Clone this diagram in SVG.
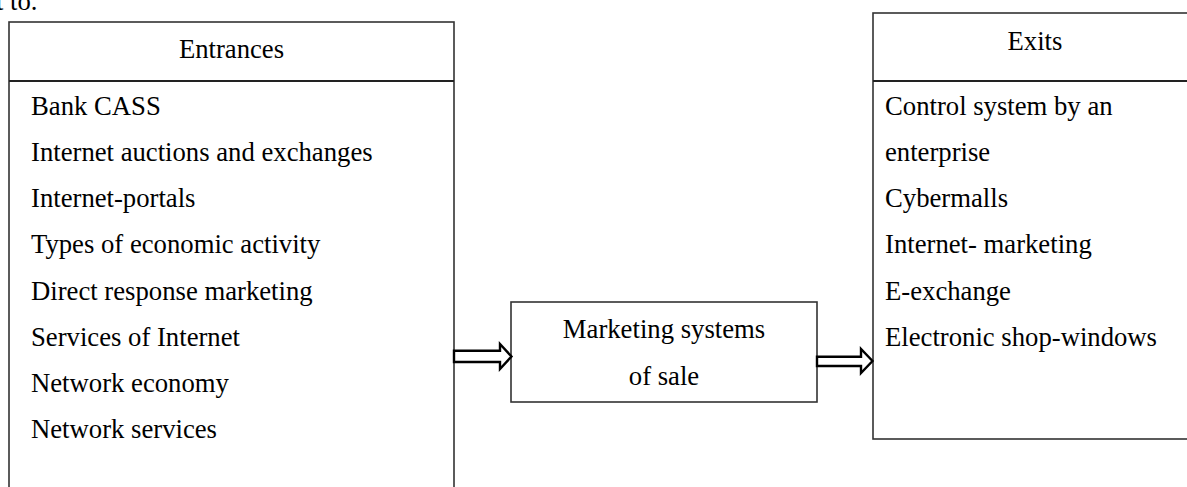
<svg xmlns="http://www.w3.org/2000/svg" width="1187" height="487" viewBox="0 0 1187 487">
  <style>
    .box { fill: #ffffff; stroke: #333333; stroke-width: 1.6; }
    .rule { stroke: #222222; stroke-width: 1.8; }
    .t { font-family: "Liberation Serif", "Times New Roman", serif; font-size: 26.7px; fill: #000000; }
    .c { text-anchor: middle; }
    .arrow { fill: #ffffff; stroke: #000000; stroke-width: 2.4; stroke-linejoin: miter; }
  </style>
  <rect width="1187" height="487" fill="#ffffff"/>

  <!-- tail of the preceding sentence -->
  <text class="t" x="-4" y="10">t to.</text>

  <!-- inputs list -->
  <g id="entrances">
    <rect class="box" x="9" y="22" width="445" height="480"/>
    <line class="rule" x1="9" y1="81" x2="454" y2="81"/>
    <text class="t c" x="231.5" y="58">Entrances</text>
    <text class="t" x="31" y="115">Bank CASS</text>
    <text class="t" x="31" y="161">Internet auctions and exchanges</text>
    <text class="t" x="31" y="207">Internet-portals</text>
    <text class="t" x="31" y="253">Types of economic activity</text>
    <text class="t" x="31" y="300">Direct response marketing</text>
    <text class="t" x="31" y="346">Services of Internet</text>
    <text class="t" x="31" y="392">Network economy</text>
    <text class="t" x="31" y="438">Network services</text>
  </g>

  <!-- central process -->
  <g id="marketing">
    <rect class="box" x="511" y="302" width="306" height="100"/>
    <text class="t c" x="664" y="338">Marketing systems</text>
    <text class="t c" x="664" y="385">of sale</text>
  </g>

  <!-- outputs list -->
  <g id="exits">
    <rect class="box" x="873" y="13" width="330" height="426"/>
    <line class="rule" x1="873" y1="81" x2="1190" y2="81"/>
    <text class="t c" x="1035" y="50">Exits</text>
    <text class="t" x="885" y="115">Control system by an</text>
    <text class="t" x="885" y="161">enterprise</text>
    <text class="t" x="885" y="207">Cybermalls</text>
    <text class="t" x="885" y="253">Internet- marketing</text>
    <text class="t" x="885" y="300">E-exchange</text>
    <text class="t" x="885" y="346">Electronic shop-windows</text>
  </g>

  <!-- block arrows between the boxes -->
  <g id="connectors">
    <polygon class="arrow" points="454,350.7 500,350.7 500,344 511.5,356.5 500,369 500,362 454,362"/>
    <polygon class="arrow" points="817,356.7 861,356.7 861,349 872.5,361 861,373 861,366 817,366"/>
  </g>
</svg>
